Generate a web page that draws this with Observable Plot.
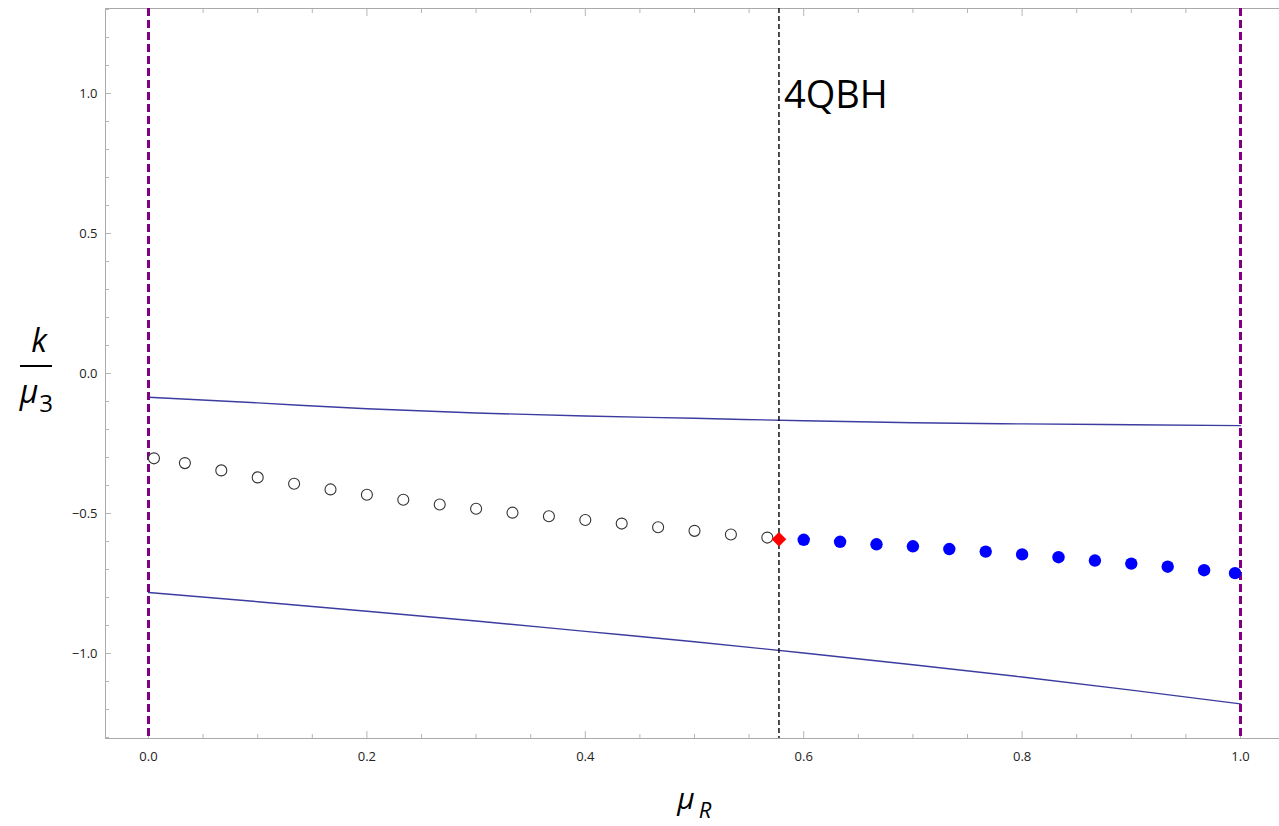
<!DOCTYPE html>
<html>
<head>
<meta charset="utf-8">
<script src="https://cdn.jsdelivr.net/npm/d3@7"></script>
<script src="https://cdn.jsdelivr.net/npm/@observablehq/plot@0.6"></script>
<style>
  html, body { margin: 0; padding: 0; background: white; }
</style>
</head>
<body>
<div id="chart"></div>
<script>
// ---- data ----
const openX = [0.005, 1/30, 2/30, 3/30, 4/30, 5/30, 6/30, 7/30, 8/30, 9/30, 10/30, 11/30, 12/30, 13/30, 14/30, 15/30, 16/30, 17/30];
const openY = [-0.303, -0.320, -0.346, -0.371, -0.394, -0.414, -0.433, -0.451, -0.468, -0.483, -0.497, -0.510, -0.523, -0.536, -0.549, -0.562, -0.575, -0.586];

const filledX = [18/30, 19/30, 20/30, 21/30, 22/30, 23/30, 24/30, 25/30, 26/30, 27/30, 28/30, 29/30, 0.995];
const filledY = [-0.594, -0.601, -0.610, -0.617, -0.627, -0.636, -0.646, -0.656, -0.668, -0.679, -0.690, -0.7025, -0.713];

const criticalX = [1 / Math.sqrt(3)];
const criticalY = [-0.592];

const curveX = [0, 0.1, 0.2, 0.3, 0.4, 0.5, 0.6, 0.7, 0.8, 0.9, 1.0];
const upperY = [-0.085, -0.105, -0.126, -0.141, -0.152, -0.160, -0.169, -0.176, -0.180, -0.183, -0.186];
const lowerY = [-0.782, -0.815, -0.849, -0.884, -0.921, -0.958, -0.998, -1.040, -1.084, -1.131, -1.180];

const boundaryX = [0, 1];
const annotX = [1 / Math.sqrt(3)];
const annotY = [0.99];
const annotText = ["4QBH"];

const xMajor = [0, 0.2, 0.4, 0.6, 0.8, 1.0];
const xMinor = d3.range(0, 21).map(i => i * 0.05).filter(v => !xMajor.some(m => Math.abs(m - v) < 1e-9));
const yMajor = [-1, -0.5, 0, 0.5, 1];
const yMinor = d3.range(-13, 14).map(i => i / 10).filter(v => !yMajor.some(m => Math.abs(m - v) < 1e-9));

// ---- tables ----
const openPts = openX.map((x, i) => ({x, y: openY[i]}));
const filledPts = filledX.map((x, i) => ({x, y: filledY[i]}));
const critPts = criticalX.map((x, i) => ({x, y: criticalY[i]}));
const upper = curveX.map((x, i) => ({x, y: upperY[i]}));
const lower = curveX.map((x, i) => ({x, y: lowerY[i]}));
const annots = annotX.map((x, i) => ({x, y: annotY[i], text: annotText[i]}));

const fmt = d3.format(".1f");
const tickColor = "#b5b5b5";
const blank = () => "";

const chart = Plot.plot({
  width: 1279,
  height: 826,
  marginLeft: 105,
  marginRight: 0,
  marginTop: 8,
  marginBottom: 88,
  x: {domain: [-0.03938, 1.03571]},
  y: {domain: [-1.30357, 1.30357]},
  style: {fontFamily: "Open Sans", fontSize: "13px", color: "#333", background: "white"},
  marks: [
    Plot.frame({stroke: "#aaaaaa"}),
    // tick labels
    Plot.axisX(xMajor, {anchor: "bottom", tickSize: 0, tickPadding: 13, tickFormat: fmt, label: null, fill: "#222"}),
    Plot.axisY(yMajor, {anchor: "left", tickSize: 0, tickPadding: 8, tickFormat: fmt, label: null, fill: "#222"}),
    // inward ticks
    Plot.axisX(xMajor, {anchor: "bottom", tickSize: -7, tickFormat: blank, label: null, stroke: tickColor}),
    Plot.axisX(xMinor, {anchor: "bottom", tickSize: -4, tickFormat: blank, label: null, stroke: tickColor}),
    Plot.axisX(xMajor, {anchor: "top", tickSize: -7, tickFormat: blank, label: null, stroke: tickColor}),
    Plot.axisX(xMinor, {anchor: "top", tickSize: -4, tickFormat: blank, label: null, stroke: tickColor}),
    Plot.axisY(yMajor, {anchor: "left", tickSize: -6, tickFormat: blank, label: null, stroke: tickColor}),
    Plot.axisY(yMinor, {anchor: "left", tickSize: -4, tickFormat: blank, label: null, stroke: tickColor}),
    // boundary curves
    Plot.line(upper, {x: "x", y: "y", stroke: "#3c3ca0", strokeWidth: 1.4, curve: "monotone-x"}),
    Plot.line(lower, {x: "x", y: "y", stroke: "#3c3ca0", strokeWidth: 1.4, curve: "monotone-x"}),
    // vertical dashed lines
    Plot.ruleX(boundaryX, {stroke: "#800080", strokeWidth: 3, strokeDasharray: "8,4"}),
    Plot.ruleX(criticalX, {stroke: "black", strokeWidth: 1.4, strokeDasharray: "5,3"}),
    // points
    Plot.dot(openPts, {x: "x", y: "y", r: 5.5, stroke: "#333", strokeWidth: 1.1, fill: "white"}),
    Plot.dot(filledPts, {x: "x", y: "y", r: 6.2, fill: "#0000ff", stroke: "none"}),
    Plot.dot(critPts, {x: "x", y: "y", r: 6.6, symbol: "diamond2", fill: "#ff0000", stroke: "none"}),
    // annotation
    Plot.text(annots, {x: "x", y: "y", text: "text", textAnchor: "start", lineAnchor: "middle", dx: 5, fontSize: 38, fill: "black", fontFamily: "Open Sans"})
  ]
});

document.getElementById("chart").appendChild(chart);

// axis titles
const svg = d3.select(chart);
const g = svg.append("g").attr("font-family", "Open Sans").attr("fill", "black");
g.append("text").attr("x", 39).attr("y", 352).attr("text-anchor", "middle")
  .attr("font-size", 32).attr("font-style", "italic").text("k");
g.append("line").attr("x1", 20).attr("x2", 52).attr("y1", 366).attr("y2", 366)
  .attr("stroke", "black").attr("stroke-width", 2);
g.append("text").attr("x", 29).attr("y", 403).attr("font-size", 32).attr("font-style", "italic").text("μ");
g.append("text").attr("x", 46).attr("y", 412).attr("font-size", 24).text("3");
g.append("text").attr("x", 686).attr("y", 809).attr("font-size", 30).attr("font-style", "italic").text("μ");
g.append("text").attr("x", 705).attr("y", 818).attr("font-size", 22).attr("font-style", "italic").text("R");
</script>
</body>
</html>
